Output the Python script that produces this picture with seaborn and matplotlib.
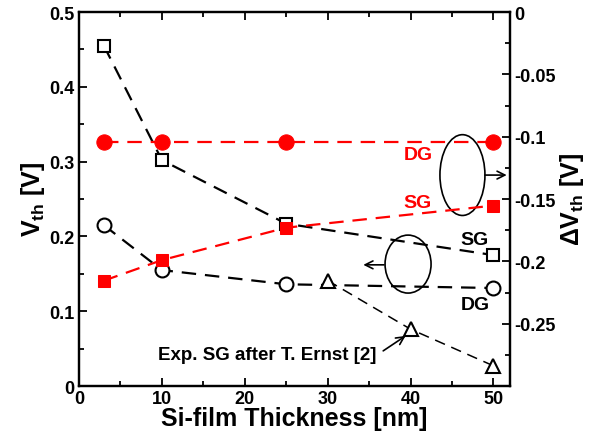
import matplotlib
matplotlib.use("Agg")
import matplotlib.pyplot as plt
from matplotlib.patches import Ellipse
from matplotlib.ticker import MultipleLocator
import seaborn as sns
import pandas as pd

# ---- data ----
thick_sim = [3, 10, 25, 50]
vth_sg = [0.455, 0.302, 0.217, 0.175]
vth_dg = [0.215, 0.155, 0.136, 0.131]
dvth_dg = [-0.1045, -0.1045, -0.1045, -0.1045]
dvth_sg = [-0.2155, -0.199, -0.173, -0.1553]
thick_exp = [30, 40, 50]
vth_exp = [0.141, 0.076, 0.027]

left_ticks = [0, 0.1, 0.2, 0.3, 0.4, 0.5]
left_labels = ["0", "0.1", "0.2", "0.3", "0.4", "0.5"]
right_ticks = [0, -0.05, -0.1, -0.15, -0.2, -0.25]
right_labels = ["0", "-0.05", "-0.1", "-0.15", "-0.2", "-0.25"]
x_ticks = [0, 10, 20, 30, 40, 50]
x_labels = ["0", "10", "20", "30", "40", "50"]

sns.set_style("ticks")
plt.rcParams["font.family"] = ["Liberation Sans", "DejaVu Sans"]
plt.rcParams["font.weight"] = "bold"
plt.rcParams["text.color"] = "black"
plt.rcParams["axes.labelcolor"] = "black"
plt.rcParams["xtick.color"] = "black"
plt.rcParams["ytick.color"] = "black"
plt.rcParams["axes.edgecolor"] = "black"
plt.rcParams["mathtext.fontset"] = "custom"
plt.rcParams["mathtext.rm"] = "Liberation Sans:bold"
plt.rcParams["mathtext.it"] = "Liberation Sans:bold"
plt.rcParams["mathtext.bf"] = "Liberation Sans:bold"

fig = plt.figure(figsize=(6.03, 4.35), dpi=100)
ax = fig.add_axes([0.131, 0.1103, 0.7148, 0.8598])
ax2 = ax.twinx()

lw = 1.6
dash = (0, (6.5, 4))
ms = 9

df_sim = pd.DataFrame({"t": thick_sim, "sg": vth_sg, "dg": vth_dg,
                       "rdg": dvth_dg, "rsg": dvth_sg})
df_exp = pd.DataFrame({"t": thick_exp, "v": vth_exp})

sns.lineplot(data=df_sim, x="t", y="sg", ax=ax, color="black", lw=lw,
             linestyle=dash, marker="s", markersize=ms, markerfacecolor="white",
             markeredgecolor="black", markeredgewidth=1.5, zorder=3)
sns.lineplot(data=df_sim, x="t", y="dg", ax=ax, color="black", lw=lw,
             linestyle=dash, marker="o", markersize=ms + 1, markerfacecolor="white",
             markeredgecolor="black", markeredgewidth=1.5, zorder=3)
sns.lineplot(data=df_exp, x="t", y="v", ax=ax, color="black", lw=1.1,
             linestyle=(0, (7, 4.5)), marker="^", markersize=ms + 1,
             markerfacecolor="white", markeredgecolor="black",
             markeredgewidth=1.5, zorder=3)
sns.lineplot(data=df_sim, x="t", y="rdg", ax=ax2, color="red", lw=lw,
             linestyle=dash, marker="o", markersize=ms + 2, markerfacecolor="red",
             markeredgecolor="red", zorder=3)
sns.lineplot(data=df_sim, x="t", y="rsg", ax=ax2, color="red", lw=lw,
             linestyle=dash, marker="s", markersize=ms, markerfacecolor="red",
             markeredgecolor="red", zorder=3)

tfs = 13
ax.set_xticks(x_ticks, x_labels, fontsize=tfs, fontweight="bold")
ax.xaxis.set_minor_locator(MultipleLocator(5))
ax.set_yticks(left_ticks, left_labels, fontsize=tfs, fontweight="bold")
ax.yaxis.set_minor_locator(MultipleLocator(0.05))
ax2.set_yticks(right_ticks, right_labels, fontsize=tfs, fontweight="bold")
ax2.yaxis.set_minor_locator(MultipleLocator(0.025))
ax.set_ylim(0, 0.5)
ax2.set_ylim(-0.3, 0)
ax.set_xlim(0, 52)

for a in (ax, ax2):
    for s in a.spines.values():
        s.set_linewidth(1.6)
        s.set_color("black")
        s.set_visible(True)
ax.tick_params(which="both", direction="in", top=True, right=False, width=1.3,
               pad=3, colors="black")
ax.tick_params(which="major", length=6)
ax.tick_params(which="minor", length=3.5)
ax2.tick_params(which="both", direction="in", width=1.3, pad=3, colors="black")
ax2.tick_params(which="major", length=6)
ax2.tick_params(which="minor", length=3.5)

ax.set_xlabel("Si-film Thickness [nm]", fontsize=18, fontweight="bold",
              labelpad=-1, color="black")
ax.set_ylabel(r"V$_{\rm th}$ [V]", fontsize=18, fontweight="bold", labelpad=2,
              color="black")
ax2.set_ylabel(r"ΔV$_{\rm th}$ [V]", fontsize=18, fontweight="bold", labelpad=2,
               color="black")

ax2.set_zorder(ax.get_zorder() + 1)
ax.patch.set_visible(True)
ax2.patch.set_visible(False)

ax.add_patch(Ellipse((46.26, 0.282), 5.43, 0.108, fill=False, lw=1.2,
                     color="black", zorder=4))
ax.add_patch(Ellipse((39.7, 0.163), 5.55, 0.0775, fill=False, lw=1.2,
                     color="black", zorder=4))
ax.annotate("", xy=(51.6, 0.282), xytext=(48.97, 0.282),
            arrowprops=dict(arrowstyle="->", lw=1.2, color="black",
                            mutation_scale=14, shrinkA=0, shrinkB=0))
ax.annotate("", xy=(34.3, 0.162), xytext=(36.8, 0.162),
            arrowprops=dict(arrowstyle="->", lw=1.2, color="black",
                            mutation_scale=14, shrinkA=0, shrinkB=0))
ax.annotate("", xy=(39.4, 0.067), xytext=(36.7, 0.047),
            arrowprops=dict(arrowstyle="->", lw=1.2, color="black",
                            mutation_scale=14, shrinkA=0, shrinkB=0))

afs = 14
ax.text(40.9, 0.309, "DG", color="red", fontsize=afs, fontweight="bold",
        ha="center", va="center")
ax.text(40.8, 0.245, "SG", color="red", fontsize=afs, fontweight="bold",
        ha="center", va="center")
ax.text(47.7, 0.1956, "SG", color="black", fontsize=afs, fontweight="bold",
        ha="center", va="center")
ax.text(47.8, 0.1096, "DG", color="black", fontsize=afs, fontweight="bold",
        ha="center", va="center")
ax.text(22.7, 0.0428, "Exp. SG after T. Ernst [2]", color="black", fontsize=13.5,
        fontweight="bold", ha="center", va="center")

ax.grid(False)
ax2.grid(False)
fig.savefig("out.png", dpi=100)
